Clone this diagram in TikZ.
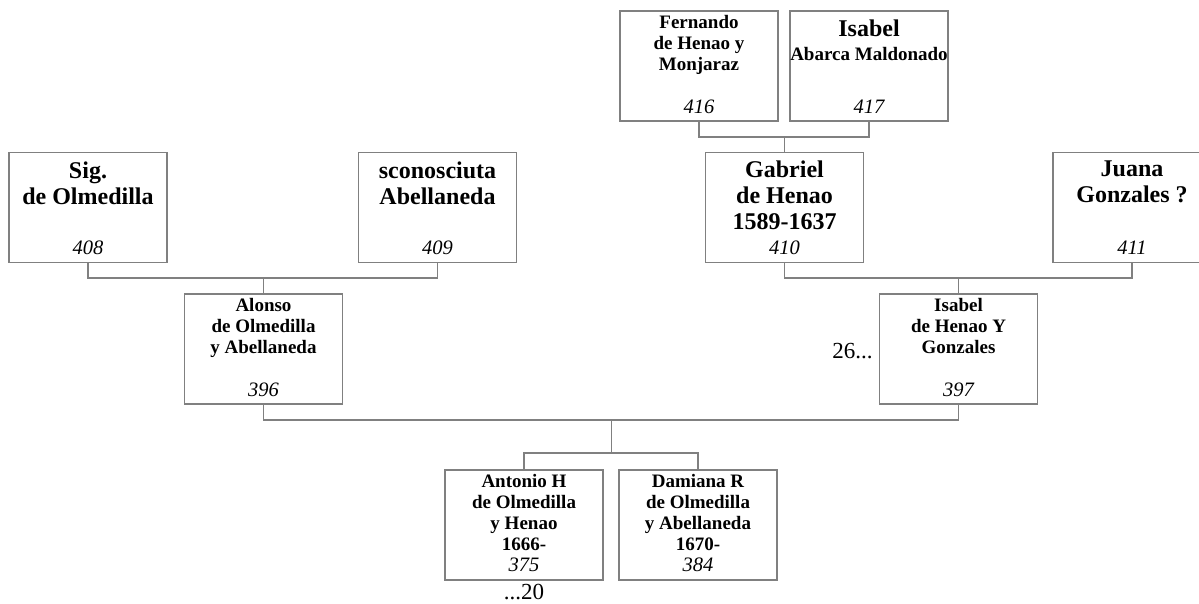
\documentclass[tikz,border=0pt]{standalone}
\usepackage{fontspec}
\setmainfont{Liberation Serif}
\definecolor{linegray}{RGB}{128,128,128}
\tikzset{
  pbox/.style={draw=linegray, line width=1.3pt, minimum width=158pt, minimum height=110pt, inner sep=0pt},
  bigname/.style={font=\fontsize{24}{26}\selectfont\bfseries, align=center, inner sep=0pt, anchor=north},
  smallname/.style={font=\fontsize{19}{20.8}\selectfont\bfseries, align=center, inner sep=0pt, anchor=north},
  num/.style={font=\fontsize{20.5}{22}\selectfont\itshape, inner sep=0pt, anchor=base},
  lbl/.style={font=\fontsize{23}{25}\selectfont, inner sep=0pt},
  conn/.style={draw=linegray, line width=1.3pt}
}
\begin{document}
\begin{tikzpicture}[x=1pt,y=-1pt]
\useasboundingbox (0,0) rectangle (1199,603);
% boxes
\node[pbox] (fer) at (699,66) {};
\node[pbox] (isa) at (869,66) {};
\node[pbox] (gab) at (784.5,207.5) {};
\node[pbox] (jua) at (1132,207.5) {};
\node[pbox] (sig) at (88,207.5) {};
\node[pbox] (sco) at (437.5,207.5) {};
\node[pbox] (alo) at (263.5,349) {};
\node[pbox] (isb) at (958.5,349) {};
\node[pbox] (ant) at (524,525) {};
\node[pbox] (dam) at (698,525) {};
% names
\node[smallname] (ferT) at ([yshift=-5.2pt]fer.north) {Fernando\\de Henao y\\Monjaraz};
\node[bigname] (isaT) at ([yshift=-9pt]isa.north) {Isabel\\[-2pt]{\fontsize{19}{20.8}\selectfont Abarca Maldonado}};
\node[bigname] (gabT) at ([yshift=-9pt]gab.north) {Gabriel\\de Henao\\1589-1637};
\node[bigname] (juaT) at ([yshift=-9pt]jua.north) {Juana\\Gonzales ?};
\node[bigname] (sigT) at ([yshift=-9.5pt]sig.north) {Sig.\\de Olmedilla};
\node[bigname] (scoT) at ([yshift=-9.5pt]sco.north) {sconosciuta\\Abellaneda};
\node[smallname] (aloT) at ([yshift=-5.2pt]alo.north) {Alonso\\de Olmedilla\\y Abellaneda};
\node[smallname] (isbT) at ([yshift=-5.2pt]isb.north) {Isabel\\de Henao Y\\Gonzales};
\node[smallname] (antT) at ([yshift=-5.2pt]ant.north) {Antonio H\\de Olmedilla\\y Henao\\1666-};
\node[smallname] (damT) at ([yshift=-5.2pt]dam.north) {Damiana R\\de Olmedilla\\y Abellaneda\\1670-};
% numbers
\node[num] (ferN) at ([yshift=8.5pt]fer.south) {416};
\node[num] (isaN) at ([yshift=8.5pt]isa.south) {417};
\node[num] (gabN) at ([yshift=8.5pt]gab.south) {410};
\node[num] (juaN) at ([yshift=8.5pt]jua.south) {411};
\node[num] (sigN) at ([yshift=8.5pt]sig.south) {408};
\node[num] (scoN) at ([yshift=8.5pt]sco.south) {409};
\node[num] (aloN) at ([yshift=8.5pt]alo.south) {396};
\node[num] (isbN) at ([yshift=8.5pt]isb.south) {397};
\node[num] (antN) at ([yshift=9.5pt]ant.south) {375};
\node[num] (damN) at ([yshift=9.5pt]dam.south) {384};
% labels
\node[lbl, anchor=base east] (l26) at ([xshift=-6pt,yshift=-9pt]isb.west) {26...};
\node[lbl, anchor=base] (l20) at ([yshift=-18.5pt]ant.south) {...20};
% connectors
\coordinate (f1) at (784.5,137);
\coordinate (f2) at (263.5,278);
\coordinate (f3) at (958.5,278);
\coordinate (f4) at (611.5,420);
\coordinate (f5) at (611.5,453);
\draw[conn] (fer.south) |- (f1) -| (isa.south);
\draw[conn] (f1) -- (gab.north);
\draw[conn] (sig.south) |- (f2) -| (sco.south);
\draw[conn] (f2) -- (alo.north);
\draw[conn] (gab.south) |- (f3) -| (jua.south);
\draw[conn] (f3) -- (isb.north);
\draw[conn] (alo.south) |- (f4) -| (isb.south);
\draw[conn] (f4) -- (f5);
\draw[conn] (ant.north) |- (f5) -| (dam.north);
\end{tikzpicture}
\end{document}
